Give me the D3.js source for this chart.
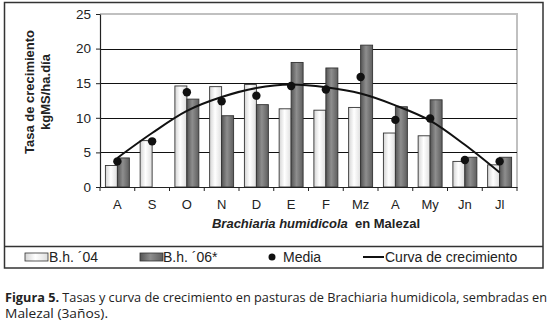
<!DOCTYPE html>
<html>
<head>
<meta charset="utf-8">
<script src="https://cdnjs.cloudflare.com/ajax/libs/d3/7.8.5/d3.min.js"></script>
<style>
  html, body { margin: 0; padding: 0; background: #fff; }
  svg { display: block; }
</style>
</head>
<body>
<svg id="chart" width="550" height="325"></svg>
<script>
// ---- data ----
const months   = ["A", "S", "O", "N", "D", "E", "F", "Mz", "A", "My", "Jn", "Jl"];
const bh04     = [3.1, 6.7, 14.6, 14.5, 14.8, 11.3, 11.1, 11.5, 7.8, 7.4, 3.7, 3.2];
const bh06     = [4.2, null, 12.7, 10.3, 11.9, 18.0, 17.2, 20.5, 11.6, 12.6, 4.3, 4.3];
const media    = [3.7, 6.6, 13.7, 12.4, 13.2, 14.6, 14.1, 15.9, 9.7, 9.9, 3.9, 3.7];
const curva    = [4.2, 7.8, 11.0, 13.0, 14.3, 14.8, 14.4, 13.5, 11.8, 9.6, 6.1, 2.1];
const yTicks   = [0, 5, 10, 15, 20, 25];
const seriesNames = ["B.h. \u00b404", "B.h. \u00b406*", "Media", "Curva de crecimiento"];

(function () {
const svg = d3.select("#chart");
const font = "'Liberation Sans', Arial, sans-serif";

// gradients
const defs = svg.append("defs");
function grad(id, stops) {
  const g = defs.append("linearGradient").attr("id", id)
    .attr("x1", "0%").attr("x2", "100%").attr("y1", "0%").attr("y2", "0%");
  stops.forEach(s => g.append("stop").attr("offset", s[0]).attr("stop-color", s[1]));
}
grad("gLight", [["0%", "#d4d4d4"], ["45%", "#ffffff"], ["100%", "#dedede"]]);
grad("gDark",  [["0%", "#555555"], ["45%", "#8e8e8e"], ["100%", "#5e5e5e"]]);

// outer frame
svg.append("rect").attr("x", 4.5).attr("y", 2.5).attr("width", 538.5).attr("height", 265.5)
  .attr("fill", "none").attr("stroke", "#333").attr("stroke-width", 1.5);
svg.append("line").attr("x1", 4.5).attr("x2", 543).attr("y1", 246.5).attr("y2", 246.5)
  .attr("stroke", "#333").attr("stroke-width", 1.5);

// scales
const pL = 100, pR = 517, pT = 14, pB = 187;
const x = d3.scaleBand().domain(d3.range(months.length)).range([pL, pR]).padding(0);
const xs = d3.scaleBand().domain([0, 1]).range([0, x.bandwidth()]).paddingInner(0).paddingOuter(0.45);
const y = d3.scaleLinear().domain([0, 25]).range([pB, pT]);

// plot border (gray top/right)
svg.append("path")
  .attr("d", `M${pL},${y(25)}H${pR}V${pB}`)
  .attr("fill", "none").attr("stroke", "#c0c0c0").attr("stroke-width", 2);

// gridlines
svg.append("g").selectAll("line").data(yTicks.filter(t => t > 0 && t < 25)).join("line")
  .attr("x1", pL).attr("x2", pR)
  .attr("y1", d => Math.round(y(d)) + 0.5).attr("y2", d => Math.round(y(d)) + 0.5)
  .attr("stroke", "#111").attr("stroke-width", 1.1);

// y axis
const yAxis = svg.append("g").attr("transform", `translate(${pL},0)`)
  .call(d3.axisLeft(y).tickValues(yTicks).tickSize(4).tickPadding(5).tickSizeOuter(0));
yAxis.select(".domain").attr("stroke", "#222").attr("stroke-width", 1.2);
yAxis.selectAll(".tick line").attr("stroke", "#222");
yAxis.selectAll("text").attr("font-family", font).attr("font-size", 13.5).attr("fill", "#222");

// bars
const bars = svg.append("g");
months.forEach((m, i) => {
  [[bh04[i], 0, "url(#gLight)"], [bh06[i], 1, "url(#gDark)"]].forEach(([v, k, f]) => {
    if (v == null) return;
    bars.append("rect")
      .attr("x", x(i) + xs(k)).attr("width", xs.bandwidth())
      .attr("y", y(v)).attr("height", y(0) - y(v))
      .attr("fill", f).attr("stroke", "#333").attr("stroke-width", 0.9);
  });
});

// x axis
const xAxis = svg.append("g").attr("transform", `translate(0,${pB})`)
  .call(d3.axisBottom(x).tickSize(0).tickPadding(13).tickFormat(i => months[i]));
xAxis.select(".domain").attr("stroke", "#222").attr("stroke-width", 1.2);
xAxis.selectAll("text").attr("font-family", font).attr("font-size", 13).attr("fill", "#222");
svg.append("g").selectAll("line").data(d3.range(months.length + 1)).join("line")
  .attr("x1", i => i < months.length ? x(i) : pR).attr("x2", i => i < months.length ? x(i) : pR)
  .attr("y1", pB).attr("y2", pB + 4).attr("stroke", "#222");

// curve
const cx = i => x(i) + x.bandwidth() / 2;
svg.append("path").datum(curva)
  .attr("d", d3.line().x((d, i) => cx(i)).y(d => y(d)).curve(d3.curveCatmullRom))
  .attr("fill", "none").attr("stroke", "#111").attr("stroke-width", 2);

// media points
svg.append("g").selectAll("circle").data(media).join("circle")
  .attr("cx", (d, i) => cx(i)).attr("cy", d => y(d)).attr("r", 4.2).attr("fill", "#111");

// axis titles
svg.append("text").attr("transform", "translate(34,92) rotate(-90)")
  .attr("text-anchor", "middle").attr("font-family", font).attr("font-weight", "bold")
  .attr("font-size", 13).attr("fill", "#222").text("Tasa de crecimiento");
svg.append("text").attr("transform", "translate(50,92) rotate(-90)")
  .attr("text-anchor", "middle").attr("font-family", font).attr("font-weight", "bold")
  .attr("font-size", 13).attr("fill", "#222").text("kgMS/ha.día");

const xt = svg.append("text").attr("x", 316).attr("y", 228).attr("text-anchor", "middle")
  .attr("font-family", font).attr("font-weight", "bold").attr("font-size", 13).attr("fill", "#222");
xt.append("tspan").attr("font-style", "italic").text("Brachiaria humidicola");
xt.append("tspan").text("\u00a0 en Malezal");

// legend
const lg = svg.append("g").attr("font-family", font).attr("font-size", 14).attr("fill", "#222");
const ly = 257;
lg.append("rect").attr("x", 25).attr("y", ly - 4).attr("width", 23).attr("height", 8)
  .attr("fill", "url(#gLight)").attr("stroke", "#333").attr("stroke-width", 0.8);
lg.append("text").attr("x", 49).attr("y", ly + 5).text(seriesNames[0]);
lg.append("rect").attr("x", 140).attr("y", ly - 4).attr("width", 23).attr("height", 8)
  .attr("fill", "url(#gDark)").attr("stroke", "#333").attr("stroke-width", 0.8);
lg.append("text").attr("x", 163).attr("y", ly + 5).text(seriesNames[1]);
lg.append("circle").attr("cx", 272).attr("cy", ly).attr("r", 3.5).attr("fill", "#111");
lg.append("text").attr("x", 283).attr("y", ly + 5).text(seriesNames[2]);
lg.append("line").attr("x1", 363).attr("x2", 384).attr("y1", ly).attr("y2", ly)
  .attr("stroke", "#111").attr("stroke-width", 2);
lg.append("text").attr("x", 385).attr("y", ly + 5).text(seriesNames[3]);

// caption
const capFont = "'Open Sans', 'Noto Sans', sans-serif";
const c1 = svg.append("text").attr("x", 5).attr("y", 302)
  .attr("font-family", capFont).attr("font-size", 12.5).attr("fill", "#222")
  .attr("textLength", 542).attr("lengthAdjust", "spacingAndGlyphs");
c1.append("tspan").attr("font-weight", "bold").text("Figura 5.");
c1.append("tspan").text(" Tasas y curva de crecimiento en pasturas de Brachiaria humidicola, sembradas en");
svg.append("text").attr("x", 5).attr("y", 318)
  .attr("font-family", capFont).attr("font-size", 12.5).attr("fill", "#222")
  .attr("textLength", 103).attr("lengthAdjust", "spacingAndGlyphs")
  .text("Malezal (3años).");
})();
</script>
</body>
</html>
